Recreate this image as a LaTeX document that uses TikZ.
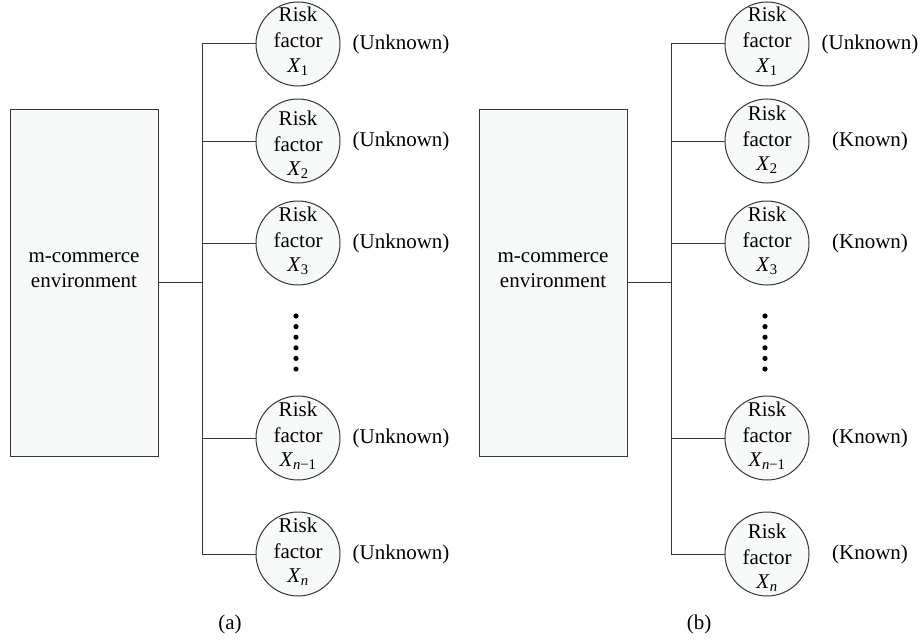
\documentclass[tikz,border=0pt]{standalone}
\usepackage{fontspec}
\setmainfont{Liberation Serif}
\definecolor{lncol}{RGB}{55,55,55}
\definecolor{boxfill}{RGB}{248,249,249}
\newcommand\rfnode[5]{%
  \node[rf] (#1) at (#2,#3) {};
  \node[st, anchor=base] (#1r) at (#2,#3-22+#5) {Risk};
  \node[st, anchor=base] (#1f) at (#2,#3+4+#5) {factor};
  \node[st, anchor=base] (#1x) at (#2,#3+28+#5) {\textit{X}\textsubscript{#4}};
}
\begin{document}
\begin{tikzpicture}[x=1pt,y=-1pt,
  ln/.style={draw=lncol, line width=1pt},
  envbox/.style={draw=lncol, line width=1pt, fill=boxfill, minimum width=148pt, minimum height=347pt, inner sep=0pt},
  rf/.style={circle, draw=lncol, line width=1pt, fill=boxfill, minimum size=84pt, inner sep=0pt},
  st/.style={font=\fontsize{21}{25}\selectfont, inner sep=0pt, text=black}]
\useasboundingbox (0,0) rectangle (923,642);

% ---------- panel (a) ----------
\node[envbox] (envA) at (84,282.5) {};
\node[st, anchor=base] (envA1) at (84,262) {m-commerce};
\node[st, anchor=base] (envA2) at (84,287) {environment};
\coordinate (busA) at (202,282);
\rfnode{a1}{298}{44}{1}{0}
\rfnode{a2}{298}{141}{2}{6}
\rfnode{a3}{298}{243}{3}{0}
\rfnode{a4}{298}{438}{\textit{n}−1}{0}
\rfnode{a5}{298}{554}{\textit{n}}{0}
\draw[ln] (envA.east |- busA) -- (busA);
\draw[ln] (busA |- a1.west) -- (busA |- a5.west);
\foreach \c in {a1,a2,a3,a4,a5}{\draw[ln] (busA |- \c.west) -- (\c.west);}
\foreach \yy in {316,326.6,337.2,347.8,358.4,369}{\fill[black] (296,\yy) circle (2.6pt);}
\node[st] (la1) at (401,44) {(Unknown)};
\node[st] (la2) at (401,141) {(Unknown)};
\node[st] (la3) at (401,243) {(Unknown)};
\node[st] (la4) at (401,438) {(Unknown)};
\node[st] (la5) at (401,554) {(Unknown)};
\node[st] (capA) at (230,624) {(a)};

% ---------- panel (b) ----------
\node[envbox] (envB) at (553,282.5) {};
\node[st, anchor=base] (envB1) at (553,262) {m-commerce};
\node[st, anchor=base] (envB2) at (553,287) {environment};
\coordinate (busB) at (671,282);
\rfnode{b1}{767}{44}{1}{0}
\rfnode{b2}{767}{141}{2}{1}
\rfnode{b3}{767}{243}{3}{0}
\rfnode{b4}{767}{438}{\textit{n}−1}{0}
\rfnode{b5}{767}{554}{\textit{n}}{6}
\draw[ln] (envB.east |- busB) -- (busB);
\draw[ln] (busB |- b1.west) -- (busB |- b5.west);
\foreach \c in {b1,b2,b3,b4,b5}{\draw[ln] (busB |- \c.west) -- (\c.west);}
\foreach \yy in {316,326.6,337.2,347.8,358.4,369}{\fill[black] (765,\yy) circle (2.6pt);}
\node[st] (lb1) at (870,44) {(Unknown)};
\node[st] (lb2) at (870,141) {(Known)};
\node[st] (lb3) at (870,243) {(Known)};
\node[st] (lb4) at (870,438) {(Known)};
\node[st] (lb5) at (870,554) {(Known)};
\node[st] (capB) at (699,624) {(b)};
\end{tikzpicture}
\end{document}
